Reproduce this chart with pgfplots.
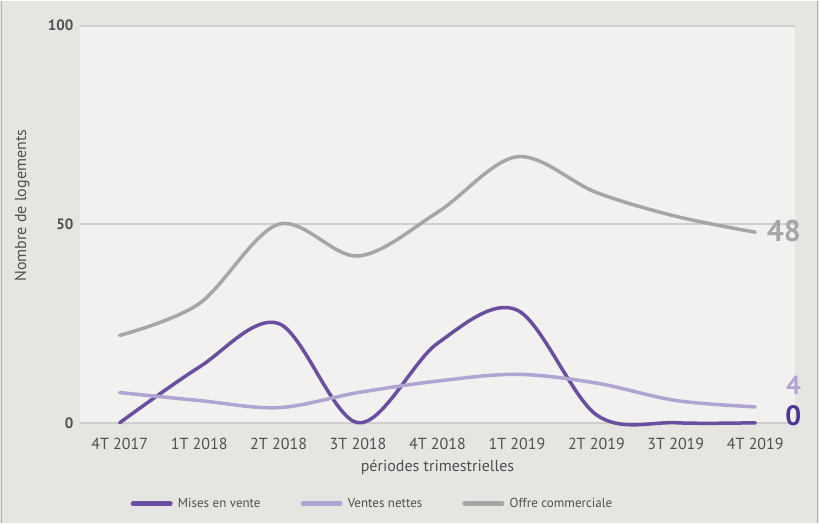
\documentclass[border=0pt]{standalone}
\usepackage{pgfplots}
\pgfplotsset{compat=1.18}
\usepackage{fontspec}
\setmainfont{PT Sans}
\definecolor{outerbg}{HTML}{E6E5E2}
\definecolor{innerbg}{HTML}{F2F1EF}
\definecolor{gridc}{HTML}{CFCFCD}
\definecolor{mises}{HTML}{6A4FA0}
\definecolor{ventes}{HTML}{B0A4D2}
\definecolor{offre}{HTML}{A5A6A8}
\definecolor{zerolab}{HTML}{4E3592}
\definecolor{txt}{HTML}{505050}
\begin{document}
\begin{tikzpicture}
\fill[outerbg] (0,0) rectangle (819bp,522bp);
\draw[line width=1.5bp, black!30] (1.5bp,0) -- (1.5bp,522bp);
\draw[line width=1.5bp, black!30] (817.5bp,0) -- (817.5bp,522bp);
\begin{axis}[
  at={(80bp,100bp)}, anchor=south west,
  scale only axis, width=715bp, height=397bp,
  xmin=-0.5, xmax=8.5, ymin=0, ymax=100,
  clip=false,
  axis background/.style={fill=innerbg},
  axis line style={draw=none},
  xtick={0,...,8},
  xticklabels={4T 2017,1T 2018,2T 2018,3T 2018,4T 2018,1T 2019,2T 2019,3T 2019,4T 2019},
  ytick={0,50,100},
  ymajorgrids, grid style={gridc, line width=2bp},
  major tick length=0pt,
  tick label style={text=txt},
  x tick label style={font=\fontsize{16bp}{18bp}\selectfont, yshift=-12bp},
  y tick label style={font=\fontsize{15bp}{17bp}\selectfont\bfseries, xshift=-3bp},
  /pgf/number format/assume math mode=true,
  xlabel={périodes trimestrielles},
  xlabel style={font=\fontsize{16bp}{18bp}\selectfont, text=txt, at={(axis description cs:0.5,-0.113)}, anchor=center},
  ylabel={Nombre de logements},
  ylabel style={font=\fontsize{16bp}{18bp}\selectfont, text=txt, at={(axis description cs:-0.081,0.547)}, anchor=center, rotate=0},
  legend columns=3,
  legend style={at={(axis description cs:0.409,-0.204)}, anchor=center, draw=none, fill=none,
    font=\fontsize{13bp}{15bp}\selectfont, text=txt,
    /tikz/every even column/.append style={column sep=38bp}},
  legend image code/.code={\draw[#1, line width=5bp, line cap=round] (0bp,0bp) -- (37bp,0bp); \path (41bp,0bp);},
  every axis plot/.append style={line width=3.5bp, line cap=round, smooth, tension=0.55},
]
\addplot[mises] coordinates {(0,0) (1,14) (2,25) (3,0) (4,20) (5,28.4) (6,2) (7,0) (8,0)};
\addlegendentry{Mises en vente}
\addplot[ventes] coordinates {(0,7.6) (1,5.6) (2,3.8) (3,7.6) (4,10.5) (5,12.2) (6,10) (7,5.6) (8,4)};
\addlegendentry{Ventes nettes}
\addplot[offre] coordinates {(0,22) (1,30) (2,50) (3,42) (4,53) (5,67) (6,58) (7,52) (8,48)};
\addlegendentry{Offre commerciale}
\node[anchor=west, font=\fontsize{30bp}{32bp}\selectfont\bfseries, text=offre] at (axis cs:8,48) [xshift=8bp, yshift=1bp] {48};
\node[anchor=center, font=\fontsize{26bp}{28bp}\selectfont\bfseries, text=ventes] at (axis cs:8.48,9.5) {4};
\node[anchor=center, font=\fontsize{28bp}{30bp}\selectfont\bfseries, text=zerolab] at (axis cs:8.48,1.8) {0};
\end{axis}
\end{tikzpicture}
\end{document}
